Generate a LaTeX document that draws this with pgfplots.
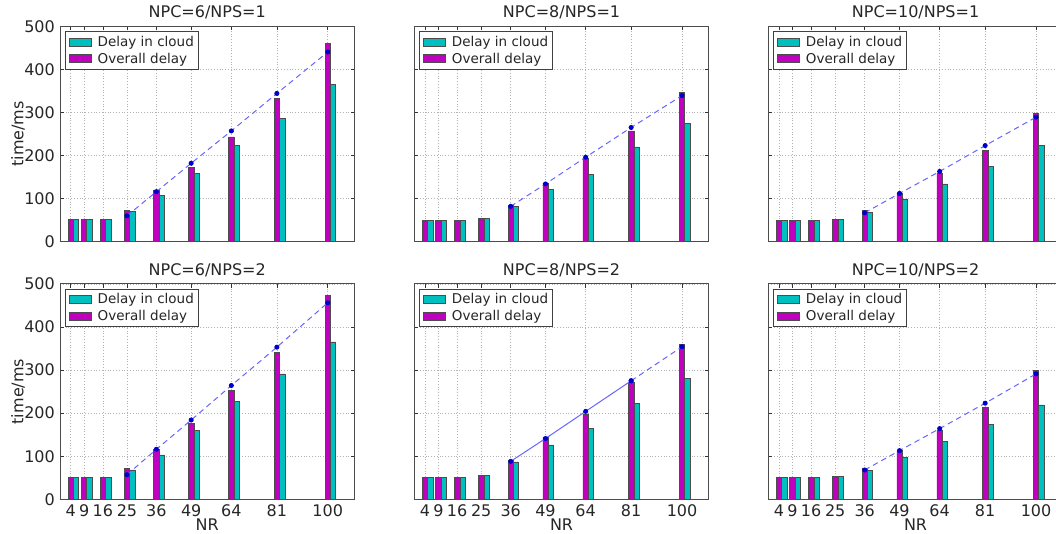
\documentclass[border=0pt]{standalone}
\usepackage{fontspec}
\setmainfont{DejaVu Sans}
\usepackage{pgfplots}
\usepackage{pgfplotstable}
\pgfplotsset{compat=1.18}
\definecolor{mc}{rgb}{0.75,0,0.75}
\definecolor{cc}{rgb}{0,0.75,0.75}
\definecolor{dotblue}{rgb}{0,0,0.8}
\definecolor{lineblue}{rgb}{0.4,0.4,1}

% NR  cloud  overall
\pgfplotstableread{
x cloud overall
4 52 52
9 52 52
16 52 52
25 70 72
36 108 120
49 158 172
64 224 243
81 286 332
100 365 460
}\tAa
\pgfplotstableread{
x y
25 60
36 116
49 182
64 257
81 344
100 440
}\lAa
\pgfplotstableread{
x cloud overall
4 51 51
9 51 51
16 51 51
25 68 72
36 103 116
49 160 177
64 227 252
81 291 340
100 365 474
}\tAb
\pgfplotstableread{
x y
25 57
36 116
49 184
64 264
81 353
100 456
}\lAb
\pgfplotstableread{
x cloud overall
4 50 50
9 50 50
16 50 50
25 54 54
36 81 85
49 122 136
64 156 194
81 220 257
100 275 347
}\tBa
\pgfplotstableread{
x y
36 82
49 134
64 196
81 265
100 339
}\lBa
\pgfplotstableread{
x cloud overall
4 50 50
9 50 50
16 50 50
25 55 55
36 87 91
49 126 143
64 165 198
81 222 271
100 280 360
}\tBb
\pgfplotstableread{
x y
36 88
49 141
64 204
81 275
}\lBbs
\pgfplotstableread{
x y
81 275
100 354
}\lBbd
\pgfplotstableread{
x cloud overall
4 50 50
9 50 50
16 50 50
25 51 51
36 68 73
49 99 112
64 134 158
81 175 211
100 224 298
}\tCa
\pgfplotstableread{
x y
36 67
49 112
64 163
81 223
100 289
}\lCa
\pgfplotstableread{
x cloud overall
4 50 50
9 50 50
16 50 50
25 53 53
36 67 72
49 98 113
64 134 160
81 174 213
100 219 299
}\tCb
\pgfplotstableread{
x y
36 68
49 113
64 164
81 223
100 291
}\lCb

\pgfplotsset{
  panel/.style={
    scale only axis, width=294.5pt, height=215.5pt, anchor=south west,
    xmin=0, xmax=110, ymin=0, ymax=500,
    xtick={4,9,16,25,36,49,64,81,100}, ytick={0,100,...,500},
    tick align=inside, major tick length=4pt,
    grid=major,
    major grid style={black!30, dash pattern=on 0.8pt off 2pt, line width=0.5pt},
    axis line style={black!70, line width=0.9pt},
    tick style={black!80, line width=0.6pt},
    ticklabel style={font=\fontsize{16}{18}\selectfont, text=black!85},
    /pgf/number format/assume math mode=true,
    yticklabel style={inner sep=0pt, xshift=-5pt},
    xticklabel style={inner sep=0pt, yshift=-5.5pt},
    title style={at={(0.5,1)}, anchor=base, yshift=2.7pt, inner sep=0pt,
      font=\fontsize{16}{18}\selectfont, text=black!85},
    label style={font=\fontsize{16}{18}\selectfont, text=black!85},
    ylabel style={at={(axis description cs:-0.1426,0.5)}, anchor=center, inner sep=0pt},
    xlabel style={at={(axis description cs:0.5,-0.117)}, anchor=center, inner sep=0pt},
    legend style={at={(0.017,0.977)}, anchor=north west, draw=black!75, line width=0.7pt,
      font=\fontsize{13.5}{15}\selectfont, text=black!85, inner xsep=3.2pt, inner ysep=3pt,
      nodes={inner sep=1.5pt}, row sep=2pt, column sep=5pt},
    legend cell align=left,
  },
  cloudbar/.style={ybar, bar width=2, bar shift=0pt, fill=cc, draw=black!70, line width=0.6pt,
    legend image code/.code={\draw[fill=cc, draw=black!70, line width=0.6pt] (0pt,-4pt) rectangle (22pt,4pt);}},
  overbar/.style={ybar, bar width=2, bar shift=0pt, fill=mc, draw=black!70, line width=0.6pt,
    legend image code/.code={\draw[fill=mc, draw=black!70, line width=0.6pt] (0pt,-4pt) rectangle (22pt,4pt);}},
  trend/.style={lineblue, line width=1pt, dash pattern=on 5.5pt off 4pt, mark=*, mark size=2pt,
    mark options={solid, fill=dotblue, draw=dotblue}},
  trendsolid/.style={lineblue, line width=1pt, solid, mark=*, mark size=2pt,
    mark options={solid, fill=dotblue, draw=dotblue}},
}

\begin{document}
\begin{tikzpicture}
% ---------- top row ----------
\begin{axis}[panel, at={(60pt,291.3pt)}, title={NPC=6/NPS=1}, ylabel={time/ms}, xticklabels={}]
\addplot[cloudbar] table[x expr=\thisrow{x}+2, y=cloud] {\tAa};
\addlegendentry{Delay in cloud}
\addplot[overbar] table[x=x, y=overall] {\tAa};
\addlegendentry{Overall delay}
\addplot[trend, forget plot] table[x=x, y=y] {\lAa};
\end{axis}
\begin{axis}[panel, at={(414.3pt,291.3pt)}, title={NPC=8/NPS=1}, xticklabels={}, yticklabels={}]
\addplot[cloudbar] table[x expr=\thisrow{x}+2, y=cloud] {\tBa};
\addlegendentry{Delay in cloud}
\addplot[overbar] table[x=x, y=overall] {\tBa};
\addlegendentry{Overall delay}
\addplot[trend, forget plot] table[x=x, y=y] {\lBa};
\end{axis}
\begin{axis}[panel, at={(768.3pt,291.3pt)}, title={NPC=10/NPS=1}, xticklabels={}, yticklabels={}]
\addplot[cloudbar] table[x expr=\thisrow{x}+2, y=cloud] {\tCa};
\addlegendentry{Delay in cloud}
\addplot[overbar] table[x=x, y=overall] {\tCa};
\addlegendentry{Overall delay}
\addplot[trend, forget plot] table[x=x, y=y] {\lCa};
\end{axis}
% ---------- bottom row ----------
\begin{axis}[panel, at={(60pt,33.7pt)}, title={NPC=6/NPS=2}, ylabel={time/ms}, xlabel={NR}]
\addplot[cloudbar] table[x expr=\thisrow{x}+2, y=cloud] {\tAb};
\addlegendentry{Delay in cloud}
\addplot[overbar] table[x=x, y=overall] {\tAb};
\addlegendentry{Overall delay}
\addplot[trend, forget plot] table[x=x, y=y] {\lAb};
\end{axis}
\begin{axis}[panel, at={(414.3pt,33.7pt)}, title={NPC=8/NPS=2}, xlabel={NR}, yticklabels={}]
\addplot[cloudbar] table[x expr=\thisrow{x}+2, y=cloud] {\tBb};
\addlegendentry{Delay in cloud}
\addplot[overbar] table[x=x, y=overall] {\tBb};
\addlegendentry{Overall delay}
\addplot[trendsolid, forget plot] table[x=x, y=y] {\lBbs};
\addplot[trend, forget plot] table[x=x, y=y] {\lBbd};
\end{axis}
\begin{axis}[panel, at={(768.3pt,33.7pt)}, title={NPC=10/NPS=2}, xlabel={NR}, yticklabels={}]
\addplot[cloudbar] table[x expr=\thisrow{x}+2, y=cloud] {\tCb};
\addlegendentry{Delay in cloud}
\addplot[overbar] table[x=x, y=overall] {\tCb};
\addlegendentry{Overall delay}
\addplot[trend, forget plot] table[x=x, y=y] {\lCb};
\end{axis}
\pgfresetboundingbox
\useasboundingbox (0pt,0pt) rectangle (1056pt,533pt);
\end{tikzpicture}
\end{document}
